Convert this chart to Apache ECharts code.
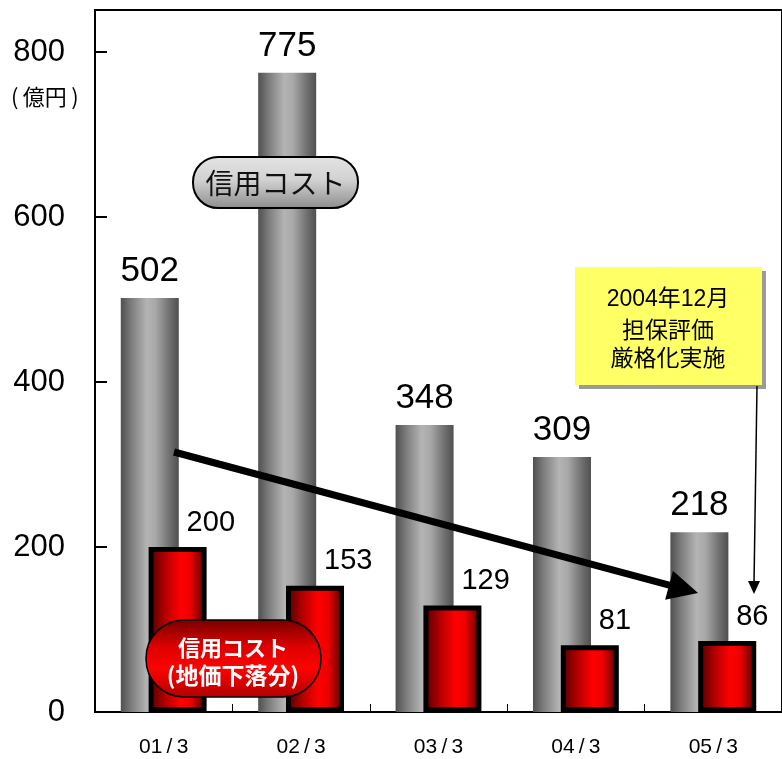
<!DOCTYPE html>
<html>
<head>
<meta charset="utf-8">
<script src="https://cdn.jsdelivr.net/npm/echarts@6/dist/echarts.min.js"></script>
<style>
  html, body { margin: 0; padding: 0; background: #fff; }
  #chart { width: 782px; height: 759px; }
</style>
</head>
<body>
<div id="chart"></div>
<script>
// Fiscal year-end periods
const periods = ['01/3', '02/3', '03/3', '04/3', '05/3'];
// Total credit cost (億円)
const creditCost = [502, 775, 348, 309, 218];
// Credit cost attributable to land price decline (億円)
const landPriceCost = [200, 153, 129, 81, 86];
// Value-axis tick labels
const valueTicks = [0, 200, 400, 600, 800];

const NUM_FONT = '"Liberation Sans", Arial, Helvetica, sans-serif';
const JP_FONT = '"Noto Sans CJK JP", "Liberation Sans", sans-serif';
const MIX_FONT = '"Liberation Sans", "Noto Sans CJK JP", sans-serif';

const chart = echarts.init(document.getElementById('chart'), null, { renderer: 'canvas' });

// Cylinder-like shading for the grey bars
const greyFill = new echarts.graphic.LinearGradient(0, 0, 1, 0, [
  { offset: 0, color: '#505050' },
  { offset: 0.18, color: '#7c7c7c' },
  { offset: 0.45, color: '#b4b4b4' },
  { offset: 0.6, color: '#a8a8a8' },
  { offset: 0.85, color: '#6e6e6e' },
  { offset: 1, color: '#505050' }
]);
// Red bar shading
const redFill = new echarts.graphic.LinearGradient(0, 0, 1, 0, [
  { offset: 0, color: '#4a0000' },
  { offset: 0.3, color: '#b80000' },
  { offset: 0.55, color: '#ff0000' },
  { offset: 0.72, color: '#ee0000' },
  { offset: 1, color: '#480000' }
]);

// Thick trend arrow geometry
const arrowStart = [174, 452];
const arrowTip = [698, 593];
const headLen = 30, headWidth = 30;
const dx = arrowTip[0] - arrowStart[0], dy = arrowTip[1] - arrowStart[1];
const len = Math.hypot(dx, dy);
const ux = dx / len, uy = dy / len;
const base = [arrowTip[0] - ux * headLen, arrowTip[1] - uy * headLen];
const wingA = [base[0] - uy * headWidth / 2, base[1] + ux * headWidth / 2];
const wingB = [base[0] + uy * headWidth / 2, base[1] - ux * headWidth / 2];

const option = {
  animation: false,
  grid: {
    left: 95, right: -3, top: 10, bottom: 47,
    show: true, borderColor: '#000', borderWidth: 2, backgroundColor: 'transparent'
  },
  xAxis: {
    type: 'category',
    data: periods,
    axisLine: { lineStyle: { color: '#000', width: 2 } },
    axisTick: { show: true, inside: true, length: 8, alignWithLabel: false, interval: 0,
                lineStyle: { color: '#000', width: 1 } },
    axisLabel: {
      margin: 25, fontSize: 21, color: '#000', fontFamily: NUM_FONT,
      formatter: v => v.split('/').join('\u2009/\u2009')
    },
    splitLine: { show: false }
  },
  yAxis: {
    type: 'value',
    min: 0, max: 851, interval: 200,
    axisLine: { show: true, lineStyle: { color: '#000', width: 2 } },
    axisTick: { show: true, inside: true, length: 12, customValues: valueTicks,
                lineStyle: { color: '#000', width: 2 } },
    axisLabel: {
      margin: 30, fontSize: 31, color: '#000', fontFamily: NUM_FONT,
      customValues: valueTicks,
      formatter: v => (valueTicks.indexOf(v) >= 0 ? String(v) : '')
    },
    splitLine: { show: false }
  },
  series: [
    {
      name: '信用コスト',
      type: 'bar',
      data: creditCost,
      barWidth: 58,
      barGap: '-52%',
      itemStyle: { color: greyFill },
      label: {
        show: true, position: 'top', distance: 9,
        fontSize: 35, color: '#000', fontFamily: NUM_FONT
      },
      z: 2
    },
    {
      name: '信用コスト(地価下落分)',
      type: 'bar',
      data: landPriceCost,
      barWidth: 58,
      barGap: '-52%',
      itemStyle: { color: redFill, borderColor: '#000', borderWidth: 5 },
      label: {
        show: true, position: 'top', distance: 10, align: 'left', offset: [9, 0],
        fontSize: 29, color: '#000', fontFamily: NUM_FONT
      },
      z: 3
    }
  ],
  graphic: [
    // unit label under the top tick value
    {
      type: 'text', left: 11, top: 86, z: 10,
      style: { text: '(\u2009億円\u2009)', font: '22px ' + JP_FONT, fill: '#000' }
    },
    // grey callout pill
    {
      type: 'rect', z: 10,
      shape: { x: 193, y: 157, width: 165, height: 51, r: 25 },
      style: {
        fill: new echarts.graphic.LinearGradient(0, 0, 0, 1, [
          { offset: 0, color: '#e4e4e4' },
          { offset: 0.45, color: '#d2d2d2' },
          { offset: 1, color: '#8c8c8c' }
        ]),
        stroke: '#000', lineWidth: 2
      }
    },
    {
      type: 'text', z: 11, x: 275.5, y: 183,
      style: { text: '信用コスト', font: '28px ' + JP_FONT, fill: '#111',
               align: 'center', verticalAlign: 'middle' }
    },
    // red callout pill
    {
      type: 'rect', z: 10,
      shape: { x: 146, y: 620, width: 175, height: 77, r: 38 },
      style: {
        fill: new echarts.graphic.LinearGradient(0, 0, 0, 1, [
          { offset: 0, color: '#760000' },
          { offset: 0.35, color: '#dd0000' },
          { offset: 0.62, color: '#ff0202' },
          { offset: 1, color: '#b00000' }
        ]),
        stroke: '#000', lineWidth: 1.5
      }
    },
    {
      type: 'text', z: 11, x: 233, y: 648,
      style: { text: '信用コスト', font: 'bold 22px ' + JP_FONT, fill: '#fff',
               align: 'center', verticalAlign: 'middle' }
    },
    {
      type: 'text', z: 11, x: 233, y: 675,
      style: { text: '(地価下落分)', font: 'bold 23px ' + JP_FONT, fill: '#fff',
               align: 'center', verticalAlign: 'middle' }
    },
    // trend arrow
    {
      type: 'line', z: 12,
      shape: { x1: arrowStart[0], y1: arrowStart[1], x2: base[0] + ux * 4, y2: base[1] + uy * 4 },
      style: { stroke: '#000', lineWidth: 7 }
    },
    {
      type: 'polygon', z: 12,
      shape: { points: [arrowTip, wingA, wingB] },
      style: { fill: '#000' }
    },
    // note box with drop shadow
    {
      type: 'rect', z: 10,
      shape: { x: 579, y: 271, width: 187, height: 118 },
      style: { fill: '#9a9a9a' }
    },
    {
      type: 'rect', z: 11,
      shape: { x: 575, y: 267, width: 187, height: 118 },
      style: { fill: '#ffff66' }
    },
    {
      type: 'text', z: 12, x: 668, y: 300,
      style: { text: '2004年12月', font: '23px ' + MIX_FONT, fill: '#000',
               align: 'center', verticalAlign: 'middle' }
    },
    {
      type: 'text', z: 12, x: 668, y: 329,
      style: { text: '担保評価', font: '23px ' + JP_FONT, fill: '#000',
               align: 'center', verticalAlign: 'middle' }
    },
    {
      type: 'text', z: 12, x: 668, y: 357,
      style: { text: '厳格化実施', font: '23px ' + JP_FONT, fill: '#000',
               align: 'center', verticalAlign: 'middle' }
    },
    // pointer from the note box to the last period
    {
      type: 'line', z: 12,
      shape: { x1: 757, y1: 386, x2: 754, y2: 584 },
      style: { stroke: '#000', lineWidth: 1.5 }
    },
    {
      type: 'polygon', z: 12,
      shape: { points: [[748, 581], [760, 581], [754, 594]] },
      style: { fill: '#000' }
    }
  ]
};

chart.setOption(option);
</script>
</body>
</html>
